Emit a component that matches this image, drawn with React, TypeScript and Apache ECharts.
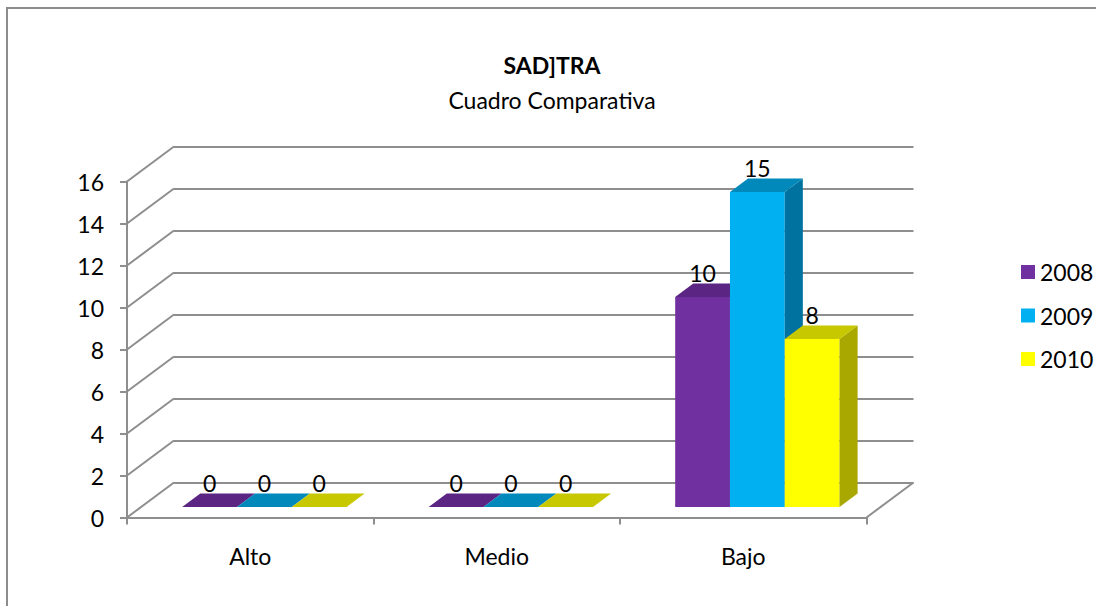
import React, { useEffect, useRef } from "react";
import * as echarts from "echarts";

const categories = ["Alto", "Medio", "Bajo"];
const years = ["2008", "2009", "2010"];
const values2008 = [0, 0, 10];
const values2009 = [0, 0, 15];
const values2010 = [0, 0, 8];
const yTicks = [0, 2, 4, 6, 8, 10, 12, 14, 16];

const seriesValues = [values2008, values2009, values2010];
const frontColors = ["#7030A0", "#00B0F0", "#FFFF00"];
const topColors = ["#5A2583", "#0089BA", "#C8C800"];
const sideColors = ["#58207F", "#0072A0", "#A8A800"];

const DX = 47;
const DY = -35;
const FRONT = 0.3;
const DEPTH = 0.385;
const FONT = "Lato";
const FS = 23;
const GRID_COLOR = "#8e8e8e";

export default function App() {
  const ref = useRef<HTMLDivElement>(null);
  useEffect(() => {
    if (!ref.current) return;
    const chart = echarts.init(ref.current, undefined, { renderer: "svg" });

    const barSeries = seriesValues.map((vals, s) => ({
      type: "custom",
      name: years[s],
      xAxisIndex: 0,
      yAxisIndex: 0,
      itemStyle: { color: frontColors[s] },
      z: 5,
      data: vals.map((v, i) => [i, v]),
      encode: { x: 0, y: 1 },
      renderItem: (params: any, api: any) => {
        const cat = api.value(0);
        const val = api.value(1);
        const base = api.coord([cat, 0]);
        const top = api.coord([cat, val]);
        const band = api.size([1, 0])[0];
        const bw = (band * 2) / 9;
        const fx = FRONT * DX;
        const fy = FRONT * DY;
        const ddx = DEPTH * DX;
        const ddy = DEPTH * DY;
        const x0 = base[0] - 1.5 * bw + s * bw + fx;
        const x1 = x0 + bw;
        const yb = base[1] + fy;
        const yt = top[1] + fy;
        return {
          type: "group",
          children: [
            {
              type: "rect",
              shape: { x: x0, y: yt, width: bw, height: yb - yt },
              style: { fill: frontColors[s] },
            },
            {
              type: "polygon",
              shape: {
                points: [
                  [x1, yt],
                  [x1 + ddx, yt + ddy],
                  [x1 + ddx, yb + ddy],
                  [x1, yb],
                ],
              },
              style: { fill: sideColors[s] },
            },
            {
              type: "polygon",
              shape: {
                points: [
                  [x0, yt],
                  [x1, yt],
                  [x1 + ddx, yt + ddy],
                  [x0 + ddx, yt + ddy],
                ],
              },
              style: { fill: topColors[s] },
            },
            {
              type: "text",
              x: x0 + bw / 2,
              y: yt + ddy - 11,
              style: {
                text: String(val),
                font: `${FS}px ${FONT}`,
                fill: "#000",
                align: "center",
                verticalAlign: "middle",
              },
              z2: 10,
            },
          ],
        };
      },
    }));

    const option: any = {
      animation: false,
      backgroundColor: "#fff",
      graphic: [
        {
          type: "rect",
          shape: { x: 7, y: 8, width: 1300, height: 800 },
          style: { fill: "none", stroke: "#8c8c8c", lineWidth: 2 },
          silent: true,
        },
        {
          type: "text",
          x: 552,
          y: 65,
          style: {
            text: "SAD]TRA",
            font: `bold ${FS}px ${FONT}`,
            fill: "#000",
            align: "center",
            verticalAlign: "middle",
          },
        },
        {
          type: "text",
          x: 552,
          y: 100,
          style: {
            text: "Cuadro Comparativa",
            font: `${FS}px ${FONT}`,
            fill: "#000",
            align: "center",
            verticalAlign: "middle",
          },
        },
      ],
      legend: {
        orient: "vertical",
        left: 1016,
        top: 255.5,
        icon: "rect",
        itemWidth: 14,
        itemHeight: 14,
        itemGap: 20.5,
        data: years,
        textStyle: { fontSize: FS, fontFamily: FONT, color: "#000", lineHeight: 23 },
      },
      grid: [
        { left: 127, top: 181.5, width: 739.5, height: 336 },
        { left: 127 + DX, top: 181.5 + DY, width: 739.5, height: 336 },
      ],
      xAxis: [
        {
          type: "category",
          gridIndex: 0,
          data: categories,
          axisLine: { show: true, lineStyle: { color: GRID_COLOR, width: 2 } },
          axisTick: { show: true, length: 7, lineStyle: { color: GRID_COLOR, width: 2 } },
          axisLabel: { margin: 27, fontSize: FS, fontFamily: FONT, color: "#000" },
          splitLine: { show: false },
        },
        {
          type: "category",
          gridIndex: 1,
          data: categories,
          show: false,
        },
      ],
      yAxis: [
        {
          type: "value",
          gridIndex: 0,
          min: 0,
          max: 16,
          interval: 2,
          axisLine: { show: true, lineStyle: { color: GRID_COLOR, width: 2 } },
          axisTick: { show: true, length: 7, lineStyle: { color: GRID_COLOR, width: 2 } },
          axisLabel: { margin: 23, fontSize: FS, fontFamily: FONT, color: "#000" },
          splitLine: { show: false },
        },
        {
          type: "value",
          gridIndex: 1,
          min: 0,
          max: 16,
          interval: 2,
          axisLine: { show: false },
          axisTick: { show: false },
          axisLabel: { show: false },
          splitLine: { show: true, lineStyle: { color: GRID_COLOR, width: 2 } },
        },
      ],
      series: [
        {
          type: "custom",
          name: "walls",
          xAxisIndex: 0,
          yAxisIndex: 0,
          z: 1,
          silent: true,
          data: yTicks.map((v) => [0, v]),
          encode: { x: 0, y: 1 },
          renderItem: (params: any, api: any) => {
            const v = api.value(1);
            const p = api.coord([0, v]);
            const cs = params.coordSys;
            const children: any[] = [
              {
                type: "line",
                shape: { x1: cs.x, y1: p[1], x2: cs.x + DX, y2: p[1] + DY },
                style: { stroke: GRID_COLOR, lineWidth: 2 },
              },
            ];
            if (v === 0) {
              children.push({
                type: "line",
                shape: {
                  x1: cs.x + cs.width,
                  y1: p[1],
                  x2: cs.x + cs.width + DX,
                  y2: p[1] + DY,
                },
                style: { stroke: GRID_COLOR, lineWidth: 2 },
              });
            }
            return { type: "group", children };
          },
        },
        ...barSeries,
      ],
    };
    chart.setOption(option);
    return () => chart.dispose();
  }, []);
  return (
    <div
      ref={ref}
      style={{ position: "fixed", left: 0, top: 0, width: 1096, height: 606, overflow: "hidden", background: "#fff" }}
    />
  );
}
